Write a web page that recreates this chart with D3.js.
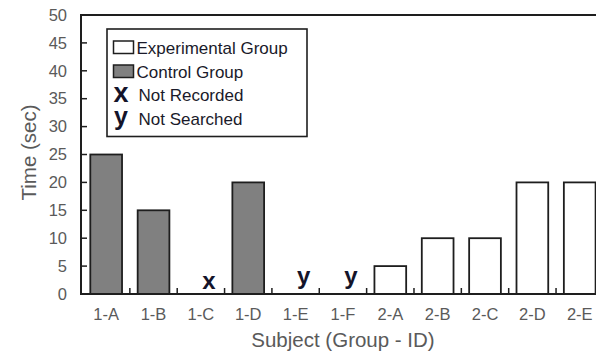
<!DOCTYPE html>
<html>
<head>
<meta charset="utf-8">
<script src="https://cdn.jsdelivr.net/npm/d3@7"></script>
<style>
  html, body { margin: 0; padding: 0; background: #fff; }
  svg { display: block; }
  text { font-family: "Liberation Sans", Arial, sans-serif; }
</style>
</head>
<body>
<svg id="chart" width="596" height="352"></svg>
<script>
// Search time per subject
const subjects = ["1-A", "1-B", "1-C", "1-D", "1-E", "1-F", "2-A", "2-B", "2-C", "2-D", "2-E"];
const groups   = ["control", "control", "control", "control", "control", "control",
                  "experimental", "experimental", "experimental", "experimental", "experimental"];
// null = no bar; the status code is drawn instead
const times    = [25, 15, null, 20, null, null, 5, 10, 10, 20, 20];
const status   = [null, null, "x", null, "y", "y", null, null, null, null, null];
const yTicks   = [0, 5, 10, 15, 20, 25, 30, 35, 40, 45, 50];
const legendItems = [
  { kind: "box", key: "experimental", label: "Experimental Group" },
  { kind: "box", key: "control", label: "Control Group" },
  { kind: "mark", key: "x", label: "Not Recorded" },
  { kind: "mark", key: "y", label: "Not Searched" }
];

const fills = { control: "#808080", experimental: "#ffffff" };
const ink = "#1e1e1e";

const svg = d3.select("#chart");
const plot = { left: 81, top: 15, bottom: 294, right: 603.4 };

const y = d3.scaleLinear().domain([0, 50]).range([plot.bottom, plot.top]);
// one slot per subject, and the bars centred inside each slot
const slot = d3.scaleBand().domain(subjects).range([82.5, plot.right]).padding(0);
const x = d3.scaleBand().domain(subjects).range([82.5, plot.right])
  .paddingInner(0.33).paddingOuter(0.165);

// bars
svg.append("g").selectAll("rect")
  .data(subjects.map((s, i) => ({ s, v: times[i], g: groups[i] })).filter(d => d.v != null))
  .join("rect")
  .attr("x", d => x(d.s))
  .attr("y", d => y(d.v))
  .attr("width", x.bandwidth())
  .attr("height", d => y(0) - y(d.v))
  .attr("fill", d => fills[d.g])
  .attr("stroke", ink)
  .attr("stroke-width", 1.8);

// status codes where no time was measured
svg.append("g").selectAll("text")
  .data(subjects.map((s, i) => ({ s, c: status[i] })).filter(d => d.c))
  .join("text")
  .attr("x", d => slot(d.s) + slot.bandwidth() / 2 + 8)
  .attr("y", d => d.c === "x" ? 288.5 : 284)
  .attr("text-anchor", "middle")
  .attr("font-size", 24)
  .attr("font-weight", "bold")
  .attr("fill", "#14142a")
  .text(d => d.c);

// left axis: labels outside, ticks pointing in
const yAxis = d3.axisLeft(y).tickValues(yTicks).tickSize(0).tickPadding(14);
const yg = svg.append("g").attr("transform", `translate(${plot.left},0)`).call(yAxis);
yg.select(".domain").remove();
yg.selectAll("text")
  .attr("font-size", 16.5)
  .attr("fill", "#5a5a5a")
  .attr("font-family", "Liberation Sans, Arial, sans-serif");
svg.append("g").selectAll("line")
  .data(yTicks.filter(t => t > 0 && t < 50))
  .join("line")
  .attr("x1", plot.left).attr("x2", plot.left + 6)
  .attr("y1", d => y(d)).attr("y2", d => y(d))
  .attr("stroke", ink).attr("stroke-width", 1.5);

// bottom axis: category labels, short ticks between slots
const xAxis = d3.axisBottom(slot).tickSize(0).tickPadding(14);
const xg = svg.append("g").attr("transform", `translate(0,${plot.bottom})`).call(xAxis);
xg.select(".domain").remove();
xg.selectAll("text")
  .attr("font-size", 16.5)
  .attr("fill", "#5a5a5a")
  .attr("font-family", "Liberation Sans, Arial, sans-serif");
svg.append("g").selectAll("line")
  .data(subjects.slice(1))
  .join("line")
  .attr("x1", d => slot(d)).attr("x2", d => slot(d))
  .attr("y1", plot.bottom).attr("y2", plot.bottom - 6)
  .attr("stroke", ink).attr("stroke-width", 1.5);

// frame: left, top and baseline
svg.append("path")
  .attr("d", `M${plot.right + 10},${plot.top}H${plot.left}V${plot.bottom}H${plot.right + 10}`)
  .attr("fill", "none")
  .attr("stroke", ink)
  .attr("stroke-width", 2);

// axis titles
svg.append("text")
  .attr("transform", `translate(36,${(plot.top + plot.bottom) / 2 - 2}) rotate(-90)`)
  .attr("text-anchor", "middle")
  .attr("font-size", 20.5)
  .attr("fill", "#5a5a5a")
  .text("Time (sec)");
svg.append("text")
  .attr("x", 343)
  .attr("y", 347)
  .attr("text-anchor", "middle")
  .attr("font-size", 20.5)
  .attr("fill", "#5a5a5a")
  .text("Subject (Group - ID)");

// legend
const lg = svg.append("g");
lg.append("rect")
  .attr("x", 107).attr("y", 29).attr("width", 200).attr("height", 107.5)
  .attr("fill", "#fff").attr("stroke", ink).attr("stroke-width", 1.6);
const rowY = [53.5, 77.5, 100.5, 125];
legendItems.forEach((it, i) => {
  if (it.kind === "box") {
    lg.append("rect")
      .attr("x", 113.5).attr("y", rowY[i] - 12.5).attr("width", 20).attr("height", 12.5)
      .attr("fill", fills[it.key]).attr("stroke", ink).attr("stroke-width", 1.5);
  } else {
    lg.append("text")
      .attr("x", 121).attr("y", rowY[i] + (it.key === "y" ? 0 : 1))
      .attr("text-anchor", "middle")
      .attr("font-size", it.key === "y" ? 25 : 27)
      .attr("font-weight", "bold")
      .attr("fill", "#14142a")
      .text(it.key);
  }
  lg.append("text")
    .attr("x", it.kind === "box" ? 136.5 : 138.5)
    .attr("y", rowY[i])
    .attr("font-size", 17)
    .attr("fill", "#1a1a2a")
    .text(it.label);
});
</script>
</body>
</html>
